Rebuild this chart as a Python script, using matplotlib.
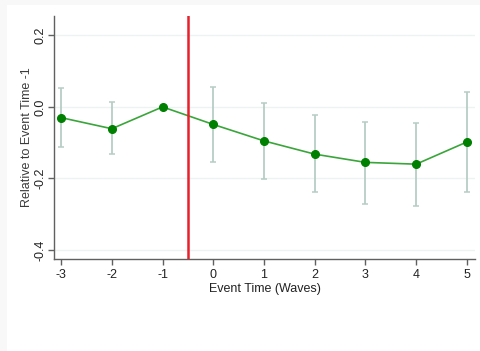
import matplotlib.pyplot as plt
from matplotlib.patches import Rectangle

plt.rcParams['font.family'] = ['Liberation Sans', 'DejaVu Sans']
plt.rcParams['axes.unicode_minus'] = False

# event-study estimates relative to wave -1
event_time = [-3, -2, -1, 0, 1, 2, 3, 4, 5]
coef = [-0.030, -0.061, 0.000, -0.049, -0.095, -0.132, -0.155, -0.160, -0.098]
ci_low = [-0.112, -0.132, 0.000, -0.153, -0.202, -0.239, -0.271, -0.277, -0.237]
ci_high = [0.052, 0.013, 0.000, 0.055, 0.010, -0.024, -0.041, -0.044, 0.043]
y_ticks = [-0.4, -0.2, 0.0, 0.2]

fig = plt.figure(figsize=(4.81, 3.51), dpi=100, facecolor='white')
# thin grey frame strips along the left and top edges
fig.patches.append(Rectangle((0, 0), 7 / 481, 1, transform=fig.transFigure,
                             facecolor='#f8f8f8', edgecolor='none'))
fig.patches.append(Rectangle((0, 1 - 5 / 351), 1, 5 / 351, transform=fig.transFigure,
                             facecolor='#f8f8f8', edgecolor='none'))
ax = fig.add_axes([54 / 481, 1 - 259 / 351, 421 / 481, 243 / 351])
ax.set_facecolor('white')

# confidence intervals (skip the reference period)
for x, lo, hi in zip(event_time, ci_low, ci_high):
    if hi - lo > 0:
        ax.errorbar(x, (lo + hi) / 2, yerr=(hi - lo) / 2, fmt='none',
                    ecolor='#b7cdc6', elinewidth=1.3, capsize=2.4, capthick=1.1, zorder=2)

ax.plot(event_time, coef, color='#3aa53a', linewidth=1.2, zorder=3)
ax.plot(event_time, coef, 'o', color='#008000', markersize=5.5, zorder=4)
ax.axvline(-0.5, color='#e8202a', linewidth=1.8, zorder=5)

ax.set_xlim(-3.14, 5.16)
ax.set_ylim(-0.425, 0.254)
ax.set_xticks(event_time)
ax.set_xticklabels([str(t) for t in event_time])
ax.set_yticks(y_ticks)
ax.set_yticklabels(['%.1f' % v for v in y_ticks], rotation=90, va='center')
ax.grid(axis='y', color='#edf2f2', linewidth=1.0)
ax.set_axisbelow(True)

for side in ['top', 'right']:
    ax.spines[side].set_visible(False)
for side in ['left', 'bottom']:
    ax.spines[side].set_color('#606060')
    ax.spines[side].set_linewidth(1.0)
ax.tick_params(colors='#606060', labelcolor='#222222', labelsize=9, length=4, width=1)
ax.tick_params(axis='y', pad=1.5)

ax.set_xlabel('Event Time (Waves)', fontsize=9, color='#222222', labelpad=1)
ax.set_ylabel('Relative to Event Time -1', fontsize=9, color='#3a3a3a', labelpad=1)

fig.savefig('out.png', dpi=100, facecolor=fig.get_facecolor())
